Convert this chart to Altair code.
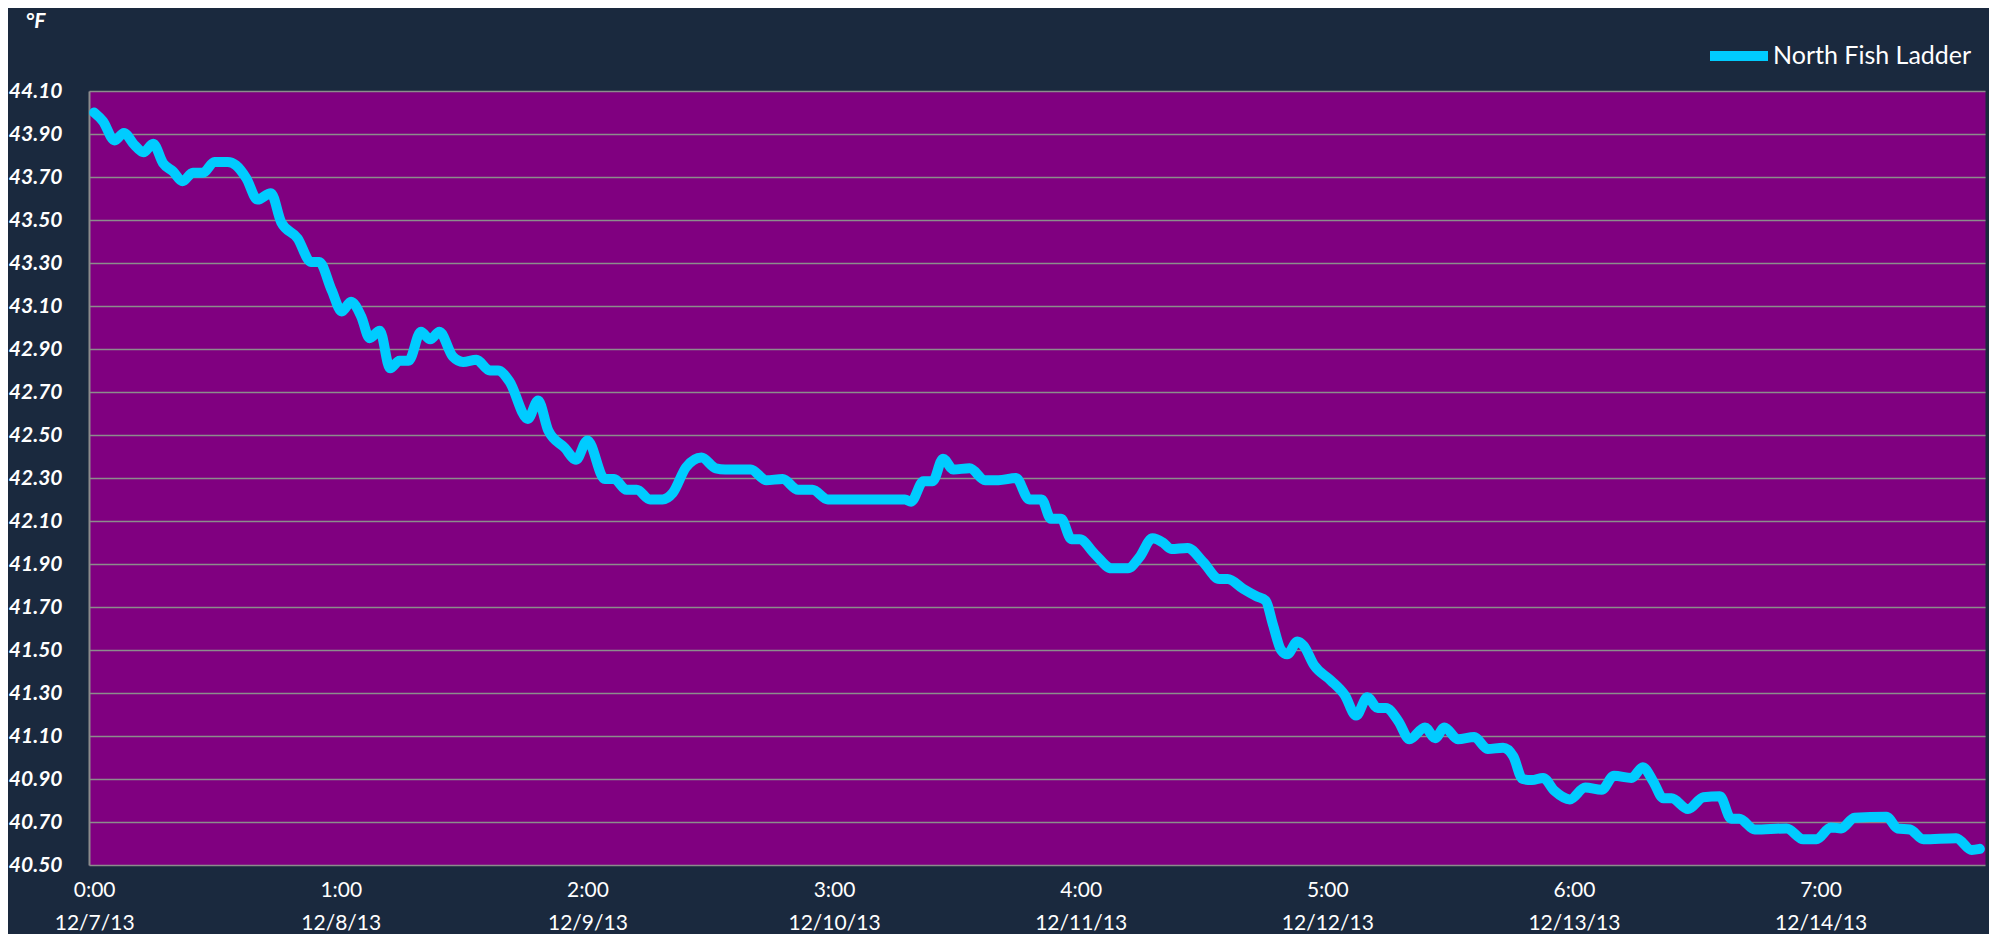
import json
import altair as alt
import pandas as pd

# Hours since 12/7/13 0:00 and water temperature (°F)
hours = [
    0.0, 0.85, 2.0, 2.9, 3.9, 4.8, 5.75, 6.7, 7.7, 8.6, 9.6, 10.6, 11.7, 13.0, 13.8,
    14.8, 15.9, 17.2, 18.2, 19.8, 21.1, 21.9, 23.1, 24.1, 25.0, 26.0, 26.8, 27.8, 28.8,
    29.7, 30.6, 31.8, 32.7, 33.6, 34.9, 35.9, 37.2, 38.5, 39.3, 40.4, 42.2, 43.2, 44.2,
    45.8, 46.9, 48.0, 49.7, 50.6, 51.8, 52.8, 54.1, 55.3, 56.3, 57.6, 59.1, 60.5, 61.4,
    63.9, 65.4, 67.0, 68.5, 69.9, 71.4, 78.9, 79.5, 80.7, 81.6, 82.6, 83.6, 85.2, 86.7,
    88.0, 89.7, 91.0, 92.2, 93.1, 94.1, 95.1, 95.9, 97.4, 99.0, 100.6, 101.7, 103.0,
    104.0, 104.8, 106.4, 107.9, 109.5, 110.3, 111.8, 113.1, 114.0, 114.7, 115.5, 116.1,
    117.1, 117.7, 118.7, 120.3, 121.7, 122.8, 123.9, 124.9, 125.7, 126.9, 128.0, 129.5,
    130.5, 131.4, 132.7, 134.3, 135.6, 137.1, 138.1, 139.0, 139.9, 141.0, 142.1, 143.6,
    145.1, 146.7, 147.9, 149.6, 150.7, 151.7, 152.7, 153.5, 155.1, 156.6, 158.2, 159.3,
    160.1, 161.6, 164.7, 166.3, 167.6, 169.0, 170.0, 171.3, 174.4, 175.5, 176.7, 178.0,
    181.2, 182.7, 183.5,
]
temps = [
    44.00, 43.96, 43.87, 43.905, 43.85, 43.815, 43.855, 43.765, 43.725, 43.68, 43.72,
    43.72, 43.77, 43.77, 43.755, 43.695, 43.595, 43.625, 43.49, 43.415, 43.305, 43.305,
    43.175, 43.075, 43.12, 43.05, 42.95, 42.985, 42.81, 42.845, 42.845, 42.98, 42.945,
    42.98, 42.865, 42.84, 42.85, 42.80, 42.80, 42.75, 42.575, 42.66, 42.52, 42.44,
    42.385, 42.475, 42.295, 42.295, 42.245, 42.245, 42.20, 42.20, 42.23, 42.35, 42.395,
    42.345, 42.34, 42.34, 42.29, 42.295, 42.245, 42.245, 42.20, 42.20, 42.19, 42.285,
    42.285, 42.39, 42.34, 42.345, 42.29, 42.29, 42.30, 42.20, 42.20, 42.11, 42.11,
    42.015, 42.015, 41.945, 41.88, 41.88, 41.93, 42.02, 42.00, 41.97, 41.975, 41.91,
    41.83, 41.83, 41.785, 41.75, 41.73, 41.62, 41.50, 41.48, 41.54, 41.52, 41.43,
    41.36, 41.29, 41.195, 41.28, 41.23, 41.23, 41.17, 41.085, 41.14, 41.09, 41.14,
    41.085, 41.095, 41.04, 41.045, 41.005, 40.90, 40.895, 40.905, 40.845, 40.805,
    40.86, 40.85, 40.915, 40.905, 40.955, 40.89, 40.81, 40.81, 40.76, 40.815, 40.82,
    40.715, 40.715, 40.665, 40.67, 40.62, 40.62, 40.675, 40.67, 40.72, 40.725, 40.67,
    40.665, 40.62, 40.625, 40.57, 40.575,
]
series_name = "North Fish Ladder"
unit_label = "°F"

y_ticks = [40.5, 40.7, 40.9, 41.1, 41.3, 41.5, 41.7, 41.9, 42.1, 42.3, 42.5,
           42.7, 42.9, 43.1, 43.3, 43.5, 43.7, 43.9, 44.1]
x_tick_hours = [0, 24, 48, 72, 96, 120, 144, 168]
time_labels = ["0:00", "1:00", "2:00", "3:00", "4:00", "5:00", "6:00", "7:00"]
date_labels = ["12/7/13", "12/8/13", "12/9/13", "12/10/13", "12/11/13",
               "12/12/13", "12/13/13", "12/14/13"]

df = pd.DataFrame({"hour": hours, "temp": temps, "series": [series_name] * len(hours)})

label_expr = (
    f"[{json.dumps(time_labels)}[round(datum.value/24)], "
    f"{json.dumps(date_labels)}[round(datum.value/24)]]"
)

BG = "#1a293e"
GRID = "#8c8c8c"
FONT = "Lato"

chart = alt.Chart(df).mark_line(
    interpolate="monotone", strokeWidth=10, strokeCap="round", strokeJoin="round"
).encode(
    x=alt.X(
        "hour:Q",
        scale=alt.Scale(domain=[-0.5, 184], nice=False, zero=False),
        axis=alt.Axis(
            values=x_tick_hours, labelExpr=label_expr, title=None, grid=False,
            ticks=False, domain=False, labelFontSize=21, labelColor="white",
            labelFont=FONT, labelPadding=14, labelLineHeight=33,
            labelAlign="center", labelBaseline="top", labelFlush=False,
            labelOverlap=False,
        ),
    ),
    y=alt.Y(
        "temp:Q",
        scale=alt.Scale(domain=[40.5, 44.1], nice=False, zero=False),
        axis=alt.Axis(
            values=y_ticks, format=".2f", ticks=False, domain=True,
            domainColor=GRID, domainWidth=2, grid=True, gridColor=GRID,
            gridWidth=1.5, labelFontSize=21, labelFont=FONT,
            labelFontWeight="bold", labelFontStyle="italic", labelColor="white",
            labelPadding=27, labelOverlap=False,
            title=unit_label, titleAngle=0, titleX=-64, titleY=-81,
            titleAlign="left", titleBaseline="top", titleFontSize=21,
            titleFont=FONT, titleFontWeight="bold", titleFontStyle="italic",
            titleColor="white",
        ),
    ),
    color=alt.Color(
        "series:N",
        scale=alt.Scale(domain=[series_name], range=["#00CCFF"]),
        legend=alt.Legend(
            title=None, orient="none", legendX=1616, legendY=-69,
            symbolType="stroke", symbolSize=3364, symbolStrokeWidth=10,
            labelFontSize=25, labelColor="white", labelFont=FONT,
            labelOffset=0, labelLimit=0, padding=0,
        ),
    ),
).properties(
    width=1896,
    height=774,
    background=BG,
    padding={"left": 81, "top": 83, "right": 4, "bottom": 69},
    autosize=alt.AutoSizeParams(type="none"),
).configure_view(fill="#800080", stroke="transparent")

chart.save("out.html", embed_options={"renderer": "svg", "actions": False})
